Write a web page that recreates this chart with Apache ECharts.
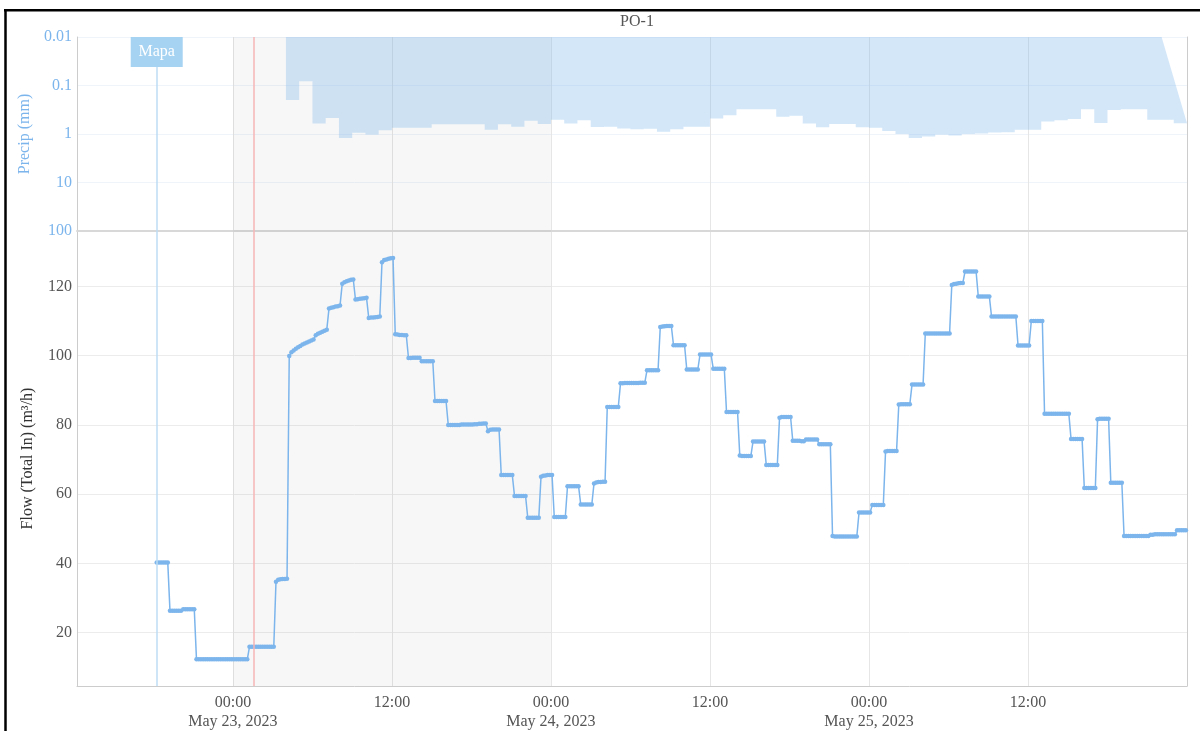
<!DOCTYPE html>
<html>
<head>
<meta charset="utf-8">
<title>PO-1</title>
<script src="https://cdn.jsdelivr.net/npm/echarts@6/dist/echarts.min.js"></script>
<style>
  html, body { margin: 0; padding: 0; background: #fff; }
  #chart { width: 1200px; height: 731px; }
</style>
</head>
<body>
<div id="chart"></div>
<script>
// ---- time range & ticks (UTC) ----
const HOUR = 3600 * 1000;
const TEN_MIN = 600 * 1000;
const axisStart = Date.UTC(2023, 4, 22, 12, 14);
const axisEnd = Date.UTC(2023, 4, 26, 0, 0);
const timeTicks = [
  Date.UTC(2023, 4, 23, 0), Date.UTC(2023, 4, 23, 12),
  Date.UTC(2023, 4, 24, 0), Date.UTC(2023, 4, 24, 12),
  Date.UTC(2023, 4, 25, 0), Date.UTC(2023, 4, 25, 12)
];
const timeTickLabels = [
  '00:00\nMay 23, 2023', '12:00',
  '00:00\nMay 24, 2023', '12:00',
  '00:00\nMay 25, 2023', '12:00'
];

// ---- flow ticks ----
const flowTicks = [20, 40, 60, 80, 100, 120];
const flowMin = 4.6;
const flowMax = 136;

// ---- events ----
const mapaTime = Date.UTC(2023, 4, 22, 18, 15);
const eventTime = Date.UTC(2023, 4, 23, 1, 35);
const shadedFrom = Date.UTC(2023, 4, 23, 0);
const shadedTo = Date.UTC(2023, 4, 24, 0);

// ---- hourly precipitation (mm), starting 2023-05-23 04:00 ----
const precipStart = Date.UTC(2023, 4, 23, 4);
const precipTop = 0.01;                              // area is filled up to the axis start
const precipCloseTime = Date.UTC(2023, 4, 25, 22, 5); // where the area's top edge closes
const precipValues = [
  // May 23, 04:00 - 23:00
  0.20, 0.082, 0.61, 0.47, 1.21, 0.94, 1.02, 0.84, 0.74, 0.74,
  0.74, 0.63, 0.63, 0.63, 0.63, 0.82, 0.63, 0.71, 0.53, 0.62,
  // May 24
  0.51, 0.61, 0.52, 0.72, 0.71, 0.77, 0.80, 0.78, 0.90, 0.80, 0.71, 0.71,
  0.48, 0.41, 0.31, 0.31, 0.31, 0.44, 0.42, 0.61, 0.73, 0.62, 0.62, 0.73,
  // May 25
  0.74, 0.87, 1.00, 1.21, 1.12, 1.03, 1.08, 1.00, 0.98, 0.93, 0.92, 0.82,
  0.82, 0.55, 0.52, 0.49, 0.31, 0.59, 0.32, 0.31, 0.31, 0.51, 0.51, 0.60
];

// ---- flow readings (m³/h), every 10 min, grouped by hour, first at 2023-05-22 18:15 ----
const flowStart = Date.UTC(2023, 4, 22, 18, 15);
const flowReadings = [
  [40.3, 40.3, 40.3, 40.3, 40.3, 40.3],
  [26.3, 26.3, 26.3, 26.3, 26.3, 26.3],
  [26.8, 26.8, 26.8, 26.8, 26.8, 26.8],
  [12.3, 12.3, 12.3, 12.3, 12.3, 12.3],
  [12.3, 12.3, 12.3, 12.3, 12.3, 12.3],
  [12.3, 12.3, 12.3, 12.3, 12.3, 12.3],
  [12.3, 12.3, 12.3, 12.3, 12.3, 12.3],
  [15.9, 15.9, 15.9, 15.9, 15.9, 15.9],
  [15.9, 15.9, 15.9, 15.9, 15.9, 15.9],
  [34.7, 35.3, 35.4, 35.5, 35.5, 35.6],
  [99.9, 101.0, 101.5, 102.0, 102.4, 102.8],
  [103.2, 103.5, 103.8, 104.1, 104.4, 104.7],
  [105.9, 106.3, 106.6, 106.9, 107.2, 107.5],
  [113.6, 113.8, 114.0, 114.2, 114.3, 114.5],
  [120.8, 121.2, 121.5, 121.7, 121.9, 122.0],
  [116.2, 116.3, 116.4, 116.5, 116.6, 116.7],
  [110.9, 111.0, 111.0, 111.1, 111.2, 111.3],
  [127.0, 127.6, 127.8, 128.0, 128.1, 128.2],
  [106.2, 106.1, 106.0, 106.0, 105.9, 105.9],
  [99.3, 99.3, 99.4, 99.4, 99.4, 99.4],
  [98.4, 98.4, 98.4, 98.4, 98.4, 98.4],
  [86.9, 86.9, 86.9, 86.9, 86.9, 86.9],
  [80.0, 80.0, 80.0, 80.0, 80.0, 80.0],
  [80.1, 80.1, 80.1, 80.1, 80.1, 80.1],
  [80.2, 80.2, 80.3, 80.3, 80.4, 80.4],
  [78.2, 78.6, 78.7, 78.7, 78.7, 78.7],
  [65.5, 65.5, 65.5, 65.5, 65.5, 65.5],
  [59.5, 59.5, 59.5, 59.5, 59.5, 59.5],
  [53.2, 53.2, 53.2, 53.2, 53.2, 53.2],
  [65.0, 65.3, 65.4, 65.5, 65.5, 65.5],
  [53.4, 53.4, 53.4, 53.4, 53.4, 53.4],
  [62.3, 62.3, 62.3, 62.3, 62.3, 62.3],
  [57.0, 57.0, 57.0, 57.0, 57.0, 57.0],
  [63.1, 63.4, 63.5, 63.5, 63.6, 63.6],
  [85.2, 85.2, 85.2, 85.2, 85.2, 85.2],
  [92.0, 92.0, 92.1, 92.1, 92.1, 92.1],
  [92.1, 92.1, 92.1, 92.2, 92.2, 92.2],
  [95.8, 95.8, 95.8, 95.8, 95.8, 95.8],
  [108.3, 108.4, 108.5, 108.6, 108.6, 108.6],
  [103.0, 103.0, 103.0, 103.0, 103.0, 103.0],
  [96.0, 96.0, 96.0, 96.0, 96.0, 96.0],
  [100.3, 100.3, 100.3, 100.3, 100.3, 100.3],
  [96.2, 96.2, 96.2, 96.2, 96.2, 96.2],
  [83.7, 83.7, 83.7, 83.7, 83.7, 83.7],
  [71.2, 71.0, 71.0, 71.0, 71.0, 71.0],
  [75.2, 75.2, 75.2, 75.2, 75.2, 75.2],
  [68.4, 68.4, 68.4, 68.4, 68.4, 68.4],
  [82.1, 82.3, 82.3, 82.3, 82.3, 82.3],
  [75.4, 75.4, 75.4, 75.4, 75.3, 75.3],
  [75.8, 75.8, 75.8, 75.8, 75.8, 75.8],
  [74.4, 74.4, 74.4, 74.4, 74.4, 74.4],
  [47.9, 47.8, 47.8, 47.8, 47.8, 47.8],
  [47.8, 47.8, 47.8, 47.8, 47.8, 47.8],
  [54.7, 54.7, 54.7, 54.7, 54.7, 54.7],
  [56.9, 56.9, 56.9, 56.9, 56.9, 56.9],
  [72.3, 72.5, 72.5, 72.5, 72.5, 72.5],
  [85.9, 86.0, 86.0, 86.0, 86.0, 86.0],
  [91.7, 91.7, 91.7, 91.7, 91.7, 91.7],
  [106.4, 106.4, 106.4, 106.4, 106.4, 106.4],
  [106.4, 106.4, 106.4, 106.4, 106.4, 106.4],
  [120.4, 120.7, 120.8, 120.9, 121.0, 121.0],
  [124.3, 124.3, 124.3, 124.3, 124.3, 124.3],
  [117.1, 117.1, 117.1, 117.1, 117.1, 117.1],
  [111.3, 111.3, 111.3, 111.3, 111.3, 111.3],
  [111.3, 111.3, 111.3, 111.3, 111.3, 111.3],
  [102.9, 102.9, 102.9, 102.9, 102.9, 102.9],
  [110.0, 110.0, 110.0, 110.0, 110.0, 110.0],
  [83.2, 83.2, 83.2, 83.2, 83.2, 83.2],
  [83.2, 83.2, 83.2, 83.2, 83.2, 83.2],
  [75.9, 75.9, 75.9, 75.9, 75.9, 75.9],
  [61.8, 61.8, 61.8, 61.8, 61.8, 61.8],
  [81.6, 81.8, 81.8, 81.8, 81.8, 81.8],
  [63.3, 63.3, 63.3, 63.3, 63.3, 63.3],
  [47.9, 47.9, 47.9, 47.9, 47.9, 47.9],
  [47.9, 47.9, 47.9, 47.9, 47.9, 47.9],
  [48.3, 48.3, 48.4, 48.4, 48.4, 48.4],
  [48.4, 48.4, 48.4, 48.4, 48.4, 48.4],
  [49.6, 49.6, 49.6, 49.6, 49.6]
];

// ---- build series data ----
const precipData = precipValues.map((v, i) => [precipStart + i * HOUR, v]);

const flowData = [];
flowReadings.forEach((hourBlock, h) => {
  hourBlock.forEach((v, k) => {
    flowData.push([flowStart + h * HOUR + k * TEN_MIN, v]);
  });
});

// ---- styling ----
const FONT = 'Liberation Serif';
const BLUE = '#7cb5ec';
const GRID_LINE = '#e6e6e6';

const shadedArea = {
  silent: true,
  itemStyle: { color: 'rgba(0,0,0,0.031)' },
  data: [[{ xAxis: shadedFrom }, { xAxis: shadedTo }]]
};
const eventLines = {
  silent: true,
  symbol: ['none', 'none'],
  label: { show: false },
  data: [
    { xAxis: mapaTime, lineStyle: { color: '#bcdcf5', width: 1.5, type: 'solid' } },
    { xAxis: eventTime, lineStyle: { color: '#f6b4b4', width: 1.5, type: 'solid' } }
  ]
};

function timeLabel(value) {
  const i = timeTicks.indexOf(value);
  return i >= 0 ? timeTickLabels[i] : '';
}

// Hourly precipitation drawn as one stepped area hanging from the top of the panel.
function renderPrecipArea(params, api) {
  if (params.dataIndex !== 0) return;
  const pts = [api.coord([precipStart, precipTop])];
  for (let i = 0; i < precipValues.length; i++) {
    const t0 = precipStart + i * HOUR;
    pts.push(api.coord([t0, precipValues[i]]));
    pts.push(api.coord([t0 + HOUR, precipValues[i]]));
  }
  pts.push(api.coord([precipCloseTime, precipTop]));
  return {
    type: 'polygon',
    shape: { points: pts },
    style: { fill: 'rgba(124,181,236,0.33)', stroke: null }
  };
}

const chart = echarts.init(document.getElementById('chart'), null, { renderer: 'canvas' });

chart.setOption({
  animation: false,
  backgroundColor: '#fff',
  textStyle: { fontFamily: FONT },
  title: {
    text: 'PO-1',
    left: 632,
    top: 9,
    textAlign: 'center',
    textStyle: { fontFamily: FONT, fontSize: 16, fontWeight: 'normal', color: '#555' }
  },
  graphic: [
    { type: 'line', shape: { x1: 5.5, y1: 9, x2: 5.5, y2: 731 }, style: { stroke: '#000', lineWidth: 2.5 } },
    { type: 'line', shape: { x1: 4, y1: 10.2, x2: 1200, y2: 10.2 }, style: { stroke: '#000', lineWidth: 2.5 } }
  ],
  grid: [
    { left: 77, right: 13, top: 37, height: 194 },
    { left: 77, right: 13, top: 231, bottom: 45 }
  ],
  xAxis: [
    {
      type: 'value', gridIndex: 0, min: axisStart, max: axisEnd,
      axisLine: { show: true, lineStyle: { color: '#d8d8d8', width: 2 } },
      axisTick: { show: false, customValues: timeTicks },
      axisLabel: { show: false, customValues: timeTicks },
      splitLine: { show: true, lineStyle: { color: GRID_LINE, width: 1 } }
    },
    {
      type: 'value', gridIndex: 1, min: axisStart, max: axisEnd,
      axisLine: { show: true, lineStyle: { color: '#cccccc', width: 1 } },
      axisTick: { show: false, customValues: timeTicks },
      axisLabel: {
        show: true, customValues: timeTicks, formatter: timeLabel,
        fontFamily: FONT, fontSize: 16, color: '#555', lineHeight: 19, margin: 7
      },
      splitLine: { show: true, lineStyle: { color: GRID_LINE, width: 1 } }
    }
  ],
  yAxis: [
    {
      type: 'log', gridIndex: 0, logBase: 10, min: 0.01, max: 100, inverse: true,
      name: 'Precip (mm)', nameLocation: 'middle', nameGap: 40, nameRotate: 90,
      nameTextStyle: { fontFamily: FONT, fontSize: 16, color: BLUE },
      axisLine: { show: true, lineStyle: { color: '#cccccc' } },
      axisTick: { show: false },
      axisLabel: {
        fontFamily: FONT, fontSize: 16, color: BLUE, margin: 5,
        formatter: v => String(Number(v.toPrecision(6)))
      },
      splitLine: { show: true, lineStyle: { color: '#eef4fa' } }
    },
    {
      type: 'value', gridIndex: 1, min: flowMin, max: flowMax,
      name: 'Flow (Total In) (m³/h)', nameLocation: 'middle', nameGap: 41, nameRotate: 90,
      nameTextStyle: { fontFamily: FONT, fontSize: 16, color: '#333' },
      axisLine: { show: true, lineStyle: { color: '#cccccc' } },
      axisTick: { show: false, customValues: flowTicks },
      axisLabel: { customValues: flowTicks, fontFamily: FONT, fontSize: 16, color: '#555', margin: 5 },
      splitLine: { show: true, lineStyle: { color: '#ececec' } }
    },
    {
      type: 'value', gridIndex: 0, position: 'right',
      axisLine: { show: true, lineStyle: { color: '#cccccc' } },
      axisTick: { show: false }, axisLabel: { show: false }, splitLine: { show: false }
    },
    {
      type: 'value', gridIndex: 1, position: 'right',
      axisLine: { show: true, lineStyle: { color: '#cccccc' } },
      axisTick: { show: false }, axisLabel: { show: false }, splitLine: { show: false }
    }
  ],
  series: [
    {
      name: 'Precip',
      type: 'custom',
      coordinateSystem: 'cartesian2d',
      xAxisIndex: 0, yAxisIndex: 0,
      data: precipData,
      encode: { x: 0, y: 1 },
      renderItem: renderPrecipArea,
      silent: true,
      markArea: shadedArea,
      markLine: eventLines,
      markPoint: {
        silent: true,
        symbol: 'rect',
        symbolSize: [52, 30],
        symbolOffset: [0, 15],
        itemStyle: { color: '#a6d3f2' },
        label: { show: true, formatter: 'Mapa', color: '#fff', fontFamily: FONT, fontSize: 16 },
        data: [{ coord: [mapaTime, 0.01], value: 'Mapa' }]
      }
    },
    {
      name: 'Flow (Total In)',
      type: 'line',
      xAxisIndex: 1, yAxisIndex: 1,
      data: flowData,
      symbol: 'circle',
      symbolSize: 4.5,
      showSymbol: true,
      showAllSymbol: true,
      itemStyle: { color: BLUE },
      lineStyle: { color: BLUE, width: 1.5 },
      markArea: shadedArea,
      markLine: eventLines
    }
  ]
});
</script>
</body>
</html>
